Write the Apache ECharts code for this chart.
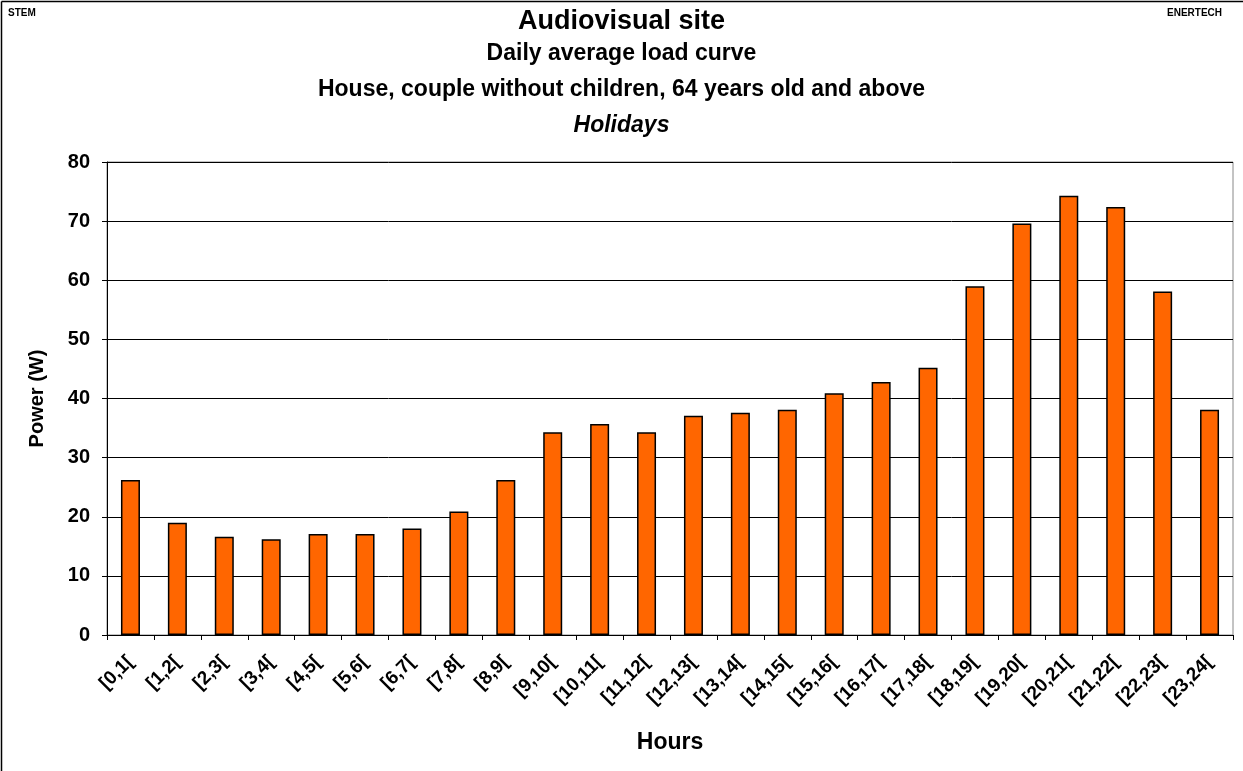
<!DOCTYPE html>
<html>
<head>
<meta charset="utf-8">
<script src="https://cdn.jsdelivr.net/npm/echarts@6/dist/echarts.min.js"></script>
<style>html,body{margin:0;padding:0;background:#fff;}#c{width:1243px;height:771px;}</style>
</head>
<body>
<div id="c"></div>
<script>
const categories = ['[0,1[','[1,2[','[2,3[','[3,4[','[4,5[','[5,6[','[6,7[','[7,8[','[8,9[','[9,10[','[10,11[','[11,12[','[12,13[','[13,14[','[14,15[','[15,16[','[16,17[','[17,18[','[18,19[','[19,20[','[20,21[','[21,22[','[22,23[','[23,24['];
const powerValues = [26.2,19.0,16.6,16.2,17.1,17.1,18.0,20.9,26.2,34.3,35.7,34.3,37.1,37.6,38.1,40.9,42.8,45.2,59.0,69.6,74.3,72.4,58.1,38.1];
const yTicks = [0,10,20,30,40,50,60,70,80];
const titles = ['Audiovisual site','Daily average load curve','House, couple without children, 64 years old and above','Holidays'];

const chart = echarts.init(document.getElementById('c'), null, {renderer:'canvas'});
const F = 'Liberation Sans, Arial, sans-serif';
chart.setOption({
  animation:false,
  backgroundColor:'#fff',
  textStyle:{fontFamily:F},
  title:[
    {text:titles[0],left:'center',top:8,padding:0,textStyle:{fontFamily:F,fontSize:27,fontWeight:'bold',color:'#000'}},
    {text:titles[1],left:'center',top:42,padding:0,textStyle:{fontFamily:F,fontSize:23,fontWeight:'bold',color:'#000'}},
    {text:titles[2],left:'center',top:78,padding:0,textStyle:{fontFamily:F,fontSize:23,fontWeight:'bold',color:'#000'}},
    {text:titles[3],left:'center',top:114,padding:0,textStyle:{fontFamily:F,fontSize:23,fontWeight:'bold',fontStyle:'italic',color:'#000'}},
    {text:'STEM',left:8,top:8,padding:0,textStyle:{fontFamily:F,fontSize:10,fontWeight:'bold',color:'#000'}},
    {text:'ENERTECH',right:21,top:8,padding:0,textStyle:{fontFamily:F,fontSize:10,fontWeight:'bold',color:'#000'}}
  ],
  graphic:[
    {type:'line',shape:{x1:1.5,y1:1.5,x2:1.5,y2:771},style:{stroke:'#000',lineWidth:1.5},silent:true},
    {type:'line',shape:{x1:1.5,y1:1.5,x2:1243,y2:1.5},style:{stroke:'#000',lineWidth:1.5},silent:true}
  ],
  grid:{left:107,right:10,top:162,bottom:136,show:true,borderColor:'#888',borderWidth:1,backgroundColor:'#fff'},
  xAxis:{
    type:'category',data:categories,
    name:'Hours',nameLocation:'middle',nameGap:96,
    nameTextStyle:{fontFamily:F,fontSize:23,fontWeight:'bold',color:'#000'},
    axisLine:{lineStyle:{color:'#000',width:1}},
    axisTick:{show:true,length:5,alignWithLabel:false,lineStyle:{color:'#000'}},
    axisLabel:{interval:0,rotate:45,fontFamily:F,fontSize:19,fontWeight:'bold',color:'#000',margin:24},
    splitLine:{show:false}
  },
  yAxis:{
    type:'value',min:0,max:80,interval:10,
    name:'Power (W)',nameLocation:'middle',nameGap:60,
    nameTextStyle:{fontFamily:F,fontSize:20,fontWeight:'bold',color:'#000'},
    axisLine:{show:true,lineStyle:{color:'#000',width:1}},
    axisTick:{show:true,length:5,lineStyle:{color:'#000'}},
    axisLabel:{fontFamily:F,fontSize:20,fontWeight:'bold',color:'#000',margin:17,
      formatter:function(v){return yTicks.indexOf(v)>=0?String(v):'';}},
    splitLine:{show:true,lineStyle:{color:'#000',width:1}}
  },
  series:[{
    type:'bar',data:powerValues,barWidth:19,
    itemStyle:{color:'#FF6600',borderColor:'#000',borderWidth:1.5}
  }]
});
</script>
</body>
</html>
